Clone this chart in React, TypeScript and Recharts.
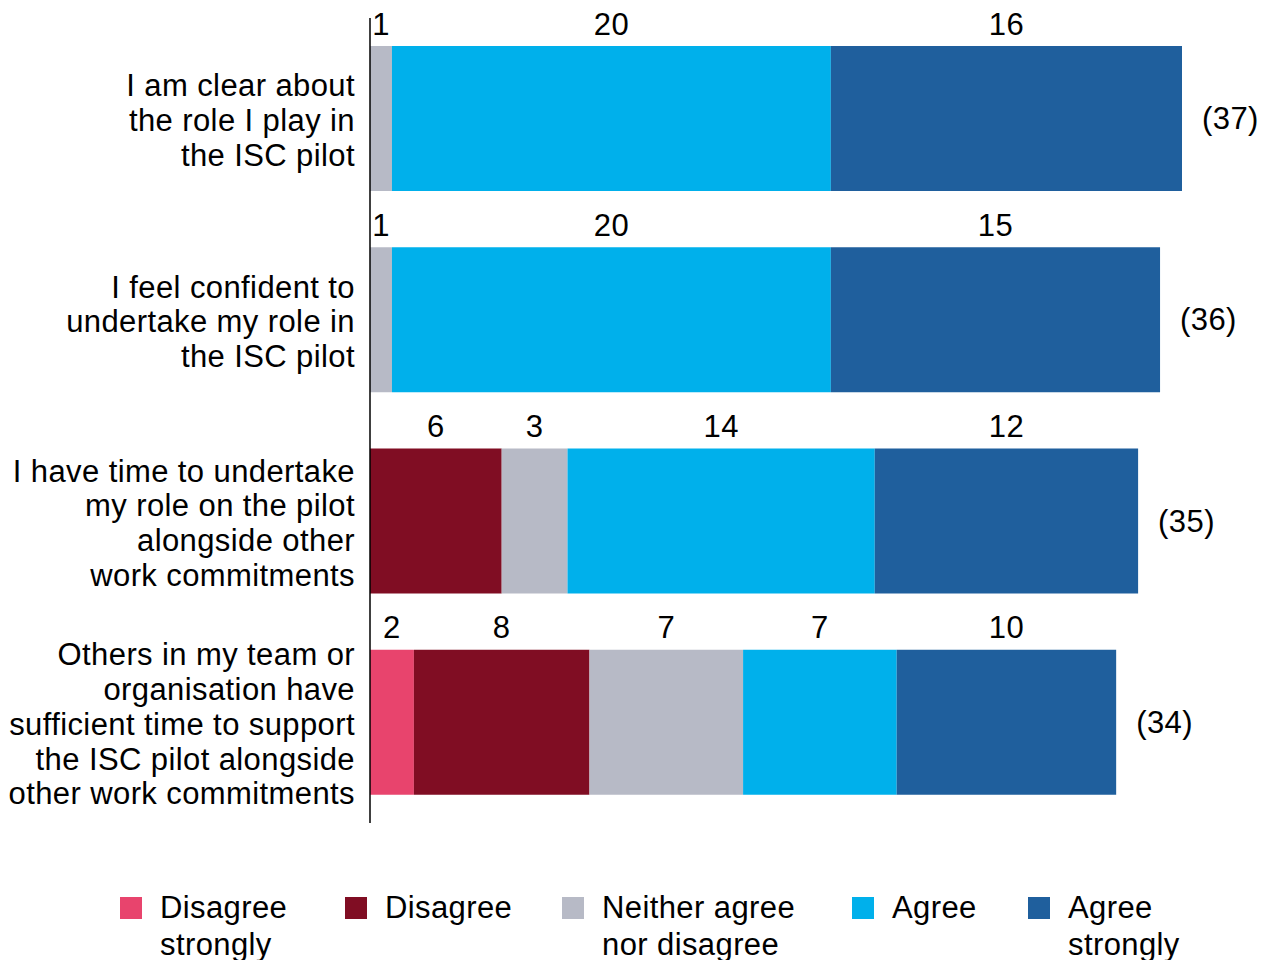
import { Bar, BarChart, LabelList, Legend, XAxis, YAxis } from "recharts";

const statements = [
  "I am clear about\nthe role I play in\nthe ISC pilot",
  "I feel confident to\nundertake my role in\nthe ISC pilot",
  "I have time to undertake\nmy role on the pilot\nalongside other\nwork commitments",
  "Others in my team or\norganisation have\nsufficient time to support\nthe ISC pilot alongside\nother work commitments",
];

const disagreeStrongly = [0, 0, 0, 2];
const disagree = [0, 0, 6, 8];
const neither = [1, 1, 3, 7];
const agree = [20, 20, 14, 7];
const agreeStrongly = [16, 15, 12, 10];
const respondents = [37, 36, 35, 34];

const series = [
  { key: "ds", name: "Disagree\nstrongly", color: "#E8446D" },
  { key: "d", name: "Disagree", color: "#800D23" },
  { key: "n", name: "Neither agree\nnor disagree", color: "#B7BAC6" },
  { key: "a", name: "Agree", color: "#00B0EB" },
  { key: "as", name: "Agree\nstrongly", color: "#1F5F9D" },
];

const data = statements.map((s, i) => ({
  statement: s,
  ds: disagreeStrongly[i],
  d: disagree[i],
  n: neither[i],
  a: agree[i],
  as: agreeStrongly[i],
  total: respondents[i],
}));

const FONT = "'Liberation Sans', Arial, sans-serif";
const FS = 31;
const LS = 0.4;
const legendWidths = [225, 217, 290, 176, 200];

function StatementTick(props: any) {
  const { x, y, payload } = props;
  const lines = String(payload.value).split("\n");
  const lh = 34.7;
  return (
    <text x={x} y={y} textAnchor="end" fill="#000" fontSize={FS} letterSpacing={LS} fontFamily={FONT}>
      {lines.map((l, i) => (
        <tspan key={i} x={x} dy={i === 0 ? -((lines.length - 1) / 2) * lh + 12.5 : lh}>
          {l}
        </tspan>
      ))}
    </text>
  );
}

function ValueLabel(props: any) {
  const { x, y, width, value } = props;
  if (!value) return null;
  return (
    <text
      x={x + width / 2}
      y={y - 22}
      textAnchor="middle"
      dominantBaseline="central"
      fill="#000"
      fontSize={FS}
      letterSpacing={LS}
      fontFamily={FONT}
    >
      {value}
    </text>
  );
}

function TotalLabel(props: any) {
  const { x, y, width, height, value } = props;
  return (
    <text
      x={x + width + 20}
      y={y + height / 2}
      textAnchor="start"
      dominantBaseline="central"
      fill="#000"
      fontSize={FS}
      letterSpacing={LS}
      fontFamily={FONT}
    >
      ({value})
    </text>
  );
}

function LegendContent() {
  return (
    <div style={{ display: "flex", paddingLeft: 112, height: 70, fontFamily: FONT }}>
      {series.map((s, i) => (
        <div key={s.key} style={{ display: "flex", width: legendWidths[i], alignItems: "flex-start" }}>
          <div style={{ width: 22, height: 22, background: s.color, marginTop: 8, marginRight: 18, flexShrink: 0 }} />
          <div style={{ fontSize: FS, letterSpacing: LS, lineHeight: "37px", color: "#000", whiteSpace: "pre" }}>
            {s.name}
          </div>
        </div>
      ))}
    </div>
  );
}

export default function App() {
  return (
    <BarChart
      layout="vertical"
      width={1260}
      height={952}
      data={data}
      margin={{ top: 10, right: 86, bottom: 67, left: 0 }}
    >
      <XAxis type="number" domain={[0, 37]} hide />
      <YAxis
        type="category"
        dataKey="statement"
        width={362}
        axisLine={{ stroke: "#000", strokeWidth: 1.5 }}
        tickLine={false}
        tickSize={0}
        tickMargin={15}
        tick={<StatementTick />}
        interval={0}
      />
      <Legend
        verticalAlign="bottom"
        height={70}
        content={<LegendContent />}
        wrapperStyle={{ top: 881, bottom: "auto", left: 0, width: 1260 }}
      />
      {series.map((s) => (
        <Bar key={s.key} dataKey={s.key} name={s.name} stackId="x" fill={s.color} barSize={145} isAnimationActive={false}>
          <LabelList dataKey={s.key} content={<ValueLabel />} />
          {s.key === "as" ? <LabelList dataKey="total" content={<TotalLabel />} /> : null}
        </Bar>
      ))}
    </BarChart>
  );
}
